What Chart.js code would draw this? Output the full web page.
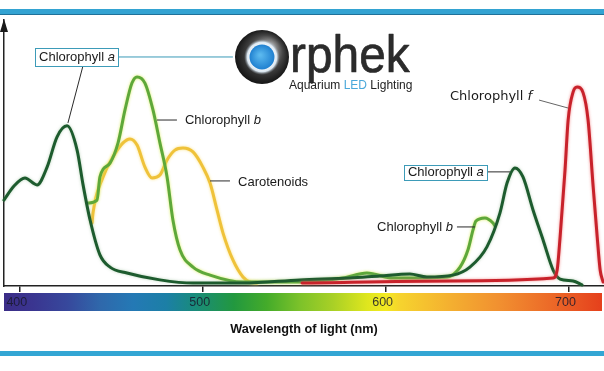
<!DOCTYPE html>
<html>
<head>
<meta charset="utf-8">
<script src="https://cdn.jsdelivr.net/npm/chart.js@4/dist/chart.umd.min.js"></script>
<style>
html,body{margin:0;padding:0;background:#fff;}
#wrap{width:604px;height:371px;position:relative;}
</style>
</head>
<body>
<div id="wrap"><canvas id="c" width="604" height="371"></canvas></div>
<script>
// ---------- data (wavelength in nm, relative absorption 0-100) ----------
const chlAWavelength = [391.3, 396.8, 402.8, 409.4, 414.9, 420.3, 425.8, 431.3, 434.5, 438.4, 443.8, 449.3, 458.6, 476.6, 494.7, 522.0, 553.2, 580.5, 596.9, 613.3, 622.6, 636.8, 646.1, 655.4, 662.5, 666.4, 670.7, 675.1, 680.6, 686.1, 691.6, 695.4, 702.5, 707.4];
const chlAValue      = [32.3, 37.6, 40.6, 38.0, 44.7, 56.0, 60.2, 51.1, 38.3, 24.8, 11.7, 7.1, 4.9, 2.3, 1.1, 1.1, 2.3, 3.0, 3.8, 4.5, 3.4, 4.1, 7.1, 14.7, 27.4, 38.7, 44.4, 41.0, 28.6, 17.3, 6.0, 2.6, 1.9, 0.4];

const chlBWavelength = [437.3, 442.2, 443.8, 449.3, 453.7, 457.5, 461.3, 464.1, 468.4, 472.8, 476.6, 480.5, 483.7, 487.6, 494.7, 504.0, 522.0, 553.2, 576.7, 589.8, 604.0, 633.6, 640.7, 645.0, 647.8, 649.4, 654.3, 658.7, 659.8];
const chlBValue      = [31.2, 32.3, 41.0, 46.2, 53.8, 66.2, 76.3, 78.6, 76.3, 66.2, 53.8, 41.0, 24.8, 13.5, 7.1, 4.1, 1.5, 1.5, 3.0, 4.9, 3.0, 3.4, 7.1, 13.5, 21.1, 24.4, 25.6, 23.7, 22.6];

const carotWavelength = [439.5, 440.0, 445.5, 450.9, 456.4, 460.2, 464.1, 468.4, 472.3, 476.6, 480.5, 484.8, 489.2, 494.7, 500.1, 504.0, 507.8, 511.1, 516.5, 522.0, 525.8, 529.7];
const carotValue      = [23.7, 27.4, 41.0, 48.5, 53.8, 55.3, 53.0, 44.7, 40.6, 41.7, 47.4, 51.1, 51.9, 50.4, 44.7, 38.7, 28.6, 19.9, 9.8, 3.4, 1.5, 1.1];

const chlFWavelength = [554.3, 635.2, 691.6, 693.8, 695.4, 698.1, 699.8, 702.5, 704.7, 708.0, 710.7, 713.5, 715.7, 717.3, 718.9];
const chlFValue      = [1.1, 1.9, 3.0, 6.0, 18.4, 43.6, 62.4, 72.9, 74.8, 72.6, 62.4, 37.2, 18.4, 6.0, 1.5];

const tickWavelengths = [400, 500, 600, 700];
const axisTitle = 'Wavelength of light (nm)';

// spectrum colour bar stops (wavelength -> colour)
const spectrumNm     = [391.3, 407, 426, 444, 462, 480, 494, 517, 535, 553, 571, 590, 600, 608, 635, 662, 690, 719];
const spectrumColour = ['#3b2d87','#3a3590','#37489c','#2f68ab','#2479b5','#1c7fa6','#198a80','#22983f','#44ab2a','#7cc22a','#a8d026','#dfe61e','#f3ea22','#f6d32e','#f4b030','#f19030','#ec6a28','#e5401c'];

// annotation labels (anchored in data coordinates)
const annotations = [
  {text:'Chlorophyll ', italic:'a', nm:410.5, v:86.1, font:'"Liberation Sans"', size:13, box:{padL:4, padR:3, halfH:9},
   lines:[{a:[434.5,82.7], b:[426.3,61.3], c:'#2a2a2a'}, {a:[454.2,86.1], b:[516.5,86.1], c:'#3a9ab8'}]},
  {text:'Chlorophyll ', italic:'b', nm:490.3, v:62.4, font:'"Liberation Sans"', size:13,
   lines:[{a:[475.0,62.4], b:[485.9,62.4], c:'#2a2a2a'}]},
  {text:'Carotenoids', italic:'', nm:519.3, v:39.1, font:'"Liberation Sans"', size:13,
   lines:[{a:[504.0,39.5], b:[514.9,39.5], c:'#2a2a2a'}]},
  {text:'Chlorophyll ', italic:'f', nm:635.2, v:71.1, font:'"DejaVu Sans"', size:13,
   lines:[{a:[683.9,69.9], b:[699.8,66.9], c:'#666'}]},
  {text:'Chlorophyll ', italic:'a', nm:612.2, v:42.7, font:'"Liberation Sans"', size:13, box:{padL:4, padR:3, halfH:7.5},
   lines:[{a:[654.9,42.9], b:[668.0,42.9], c:'#2a2a2a'}]},
  {text:'Chlorophyll ', italic:'b', nm:595.3, v:22.2, font:'"Liberation Sans"', size:13,
   lines:[{a:[639.0,22.2], b:[648.9,22.2], c:'#2a2a2a'}]}
];

function pts(xs, ys){ return xs.map((x,i)=>({x:x, y:ys[i]})); }

const glow = {
  'Chlorophyll b': 'rgba(215,235,90,0.9)',
  'Carotenoids': 'rgba(250,225,130,0.95)',
  'Chlorophyll f': 'rgba(240,120,120,0.8)',
  'Chlorophyll a': 'rgba(120,170,120,0.5)'
};

const decorPlugin = {
  id:'decor',
  beforeDraw(chart){
    const ctx = chart.ctx, ca = chart.chartArea, xs = chart.scales.x;
    ctx.save();
    ctx.fillStyle = '#fff';
    ctx.fillRect(0,0,chart.width,chart.height);
    ctx.fillStyle = '#33a3d2'; ctx.fillRect(0,9,chart.width,5);
    ctx.fillStyle = '#1f7199'; ctx.fillRect(0,14,chart.width,1);
    ctx.fillStyle = '#33a6d4'; ctx.fillRect(0,351,chart.width,5);
    const x0 = ca.left, x1 = 602;
    const g = ctx.createLinearGradient(x0,0,x1,0);
    spectrumNm.forEach((nm,i)=>{
      const p = (xs.getPixelForValue(nm)-x0)/(x1-x0);
      g.addColorStop(Math.min(1,Math.max(0,p)), spectrumColour[i]);
    });
    ctx.fillStyle = g;
    ctx.fillRect(x0, ca.bottom+7, x1-x0, 18);
    ctx.restore();
  },
  beforeDatasetDraw(chart, args){
    const ctx = chart.ctx;
    ctx.save();
    const c = glow[args.meta.label];
    if (c){ ctx.shadowColor = c; ctx.shadowBlur = 3; }
  },
  afterDatasetDraw(chart){ chart.ctx.restore(); },
  afterDraw(chart){
    const ctx = chart.ctx, ca = chart.chartArea, xs = chart.scales.x, ys = chart.scales.y;
    ctx.save();
    ctx.fillStyle = '#1a1a1a';
    ctx.beginPath();
    ctx.moveTo(ca.left, ca.top-1);
    ctx.lineTo(ca.left-4, ca.top+12);
    ctx.lineTo(ca.left+4, ca.top+12);
    ctx.closePath(); ctx.fill();

    annotations.forEach(an=>{
      an.lines.forEach(l=>{
        ctx.strokeStyle = l.c; ctx.lineWidth = 1;
        ctx.beginPath();
        ctx.moveTo(xs.getPixelForValue(l.a[0]), ys.getPixelForValue(l.a[1]));
        ctx.lineTo(xs.getPixelForValue(l.b[0]), ys.getPixelForValue(l.b[1]));
        ctx.stroke();
      });
      const x = xs.getPixelForValue(an.nm), y = ys.getPixelForValue(an.v);
      ctx.textBaseline = 'middle'; ctx.textAlign = 'left';
      ctx.font = an.size + 'px ' + an.font;
      const w1 = ctx.measureText(an.text).width;
      ctx.font = 'italic ' + an.size + 'px ' + an.font;
      const w2 = an.italic ? ctx.measureText(an.italic).width : 0;
      if (an.box){
        ctx.fillStyle = '#fff';
        ctx.strokeStyle = '#3d9bb8'; ctx.lineWidth = 1;
        const bx = Math.round(x - an.box.padL) + 0.5, by = Math.round(y - an.box.halfH) + 0.5;
        const bw = Math.round(w1 + w2 + an.box.padL + an.box.padR), bh = Math.round(an.box.halfH*2);
        ctx.fillRect(bx, by, bw, bh);
        ctx.strokeRect(bx, by, bw, bh);
      }
      ctx.fillStyle = '#1a1a1a';
      ctx.font = an.size + 'px ' + an.font;
      ctx.fillText(an.text, x, y);
      if (an.italic){
        ctx.font = 'italic ' + an.size + 'px ' + an.font;
        ctx.fillText(an.italic, x + w1, y);
      }
    });

    // logo
    const cx = 262, cy = 57;
    let g = ctx.createRadialGradient(cx+8, cy-10, 4, cx, cy, 28);
    g.addColorStop(0, '#a0a0a0'); g.addColorStop(0.55, '#444'); g.addColorStop(1, '#121212');
    ctx.beginPath(); ctx.arc(cx, cy, 27, 0, Math.PI*2); ctx.fillStyle = g; ctx.fill();
    g = ctx.createRadialGradient(cx, cy, 11, cx, cy, 18);
    g.addColorStop(0, 'rgba(255,255,255,1)'); g.addColorStop(0.55, 'rgba(225,238,248,0.95)'); g.addColorStop(1, 'rgba(120,130,140,0)');
    ctx.beginPath(); ctx.arc(cx, cy, 18, 0, Math.PI*2); ctx.fillStyle = g; ctx.fill();
    g = ctx.createRadialGradient(cx-2, cy-2, 1, cx, cy, 12.5);
    g.addColorStop(0, '#5ab8ee'); g.addColorStop(1, '#1f80d0');
    ctx.beginPath(); ctx.arc(cx, cy, 12.5, 0, Math.PI*2); ctx.fillStyle = g; ctx.fill();

    ctx.save();
    ctx.fillStyle = '#2b2b2b';
    ctx.strokeStyle = '#2b2b2b';
    ctx.lineWidth = 0.7;
    ctx.lineJoin = 'round';
    ctx.font = '52px "Liberation Sans"';
    ctx.textBaseline = 'alphabetic'; ctx.textAlign = 'left';
    ctx.translate(290, 72); ctx.scale(0.92, 1);
    ctx.fillText('rphek', 0, 0);
    ctx.strokeText('rphek', 0, 0);
    ctx.restore();

    ctx.font = '12px "Liberation Sans"';
    ctx.textBaseline = 'middle'; ctx.textAlign = 'left';
    let tx = 289;
    [['Aquarium ', '#222'], ['LED', '#4aa8da'], [' Lighting', '#222']].forEach(s=>{
      ctx.fillStyle = s[1]; ctx.fillText(s[0], tx, 86);
      tx += ctx.measureText(s[0]).width;
    });
    ctx.restore();
  }
};

new Chart(document.getElementById('c'), {
  type: 'line',
  data: {
    datasets: [
      {label:'Chlorophyll f', data: pts(chlFWavelength, chlFValue), borderColor:'#c8222b', order:1},
      {label:'Chlorophyll a', data: pts(chlAWavelength, chlAValue), borderColor:'#1d5b2e', order:2},
      {label:'Chlorophyll b', data: pts(chlBWavelength, chlBValue), borderColor:'#5ea83a', order:3},
      {label:'Carotenoids',   data: pts(carotWavelength, carotValue), borderColor:'#efc23a', order:4}
    ]
  },
  options: {
    responsive: false,
    animation: false,
    devicePixelRatio: 1,
    layout: {padding: {top: 20, left: 0, right: 0, bottom: 0}},
    plugins: {legend: {display: false}, tooltip: {enabled: false}},
    elements: {
      point: {radius: 0},
      line: {borderWidth: 3, cubicInterpolationMode: 'monotone', borderCapStyle: 'round', borderJoinStyle: 'round', fill: false}
    },
    datasets: {line: {clip: false}},
    scales: {
      x: {
        type: 'linear', min: 391.34, max: 719.41,
        afterBuildTicks: s => { s.ticks = tickWavelengths.map(v => ({value: v})); },
        afterFit: s => { s.height = 85; s.paddingLeft = 0; s.paddingRight = 0; },
        grid: {display: true, drawOnChartArea: false, drawTicks: true, tickLength: 6, color: '#222', lineWidth: 1.5},
        border: {display: true, color: '#222', width: 1.5},
        ticks: {padding: 3.5, labelOffset: -3, color: 'rgba(25,25,45,0.85)', font: {family: 'Liberation Sans', size: 12.5}, maxRotation: 0, autoSkip: false},
        title: {display: true, text: axisTitle, color: '#111', font: {family: 'Liberation Sans', size: 12.7, weight: 'bold'}, padding: {top: 0, bottom: 33.4}}
      },
      y: {
        min: 0, max: 100,
        afterFit: s => { s.width = 4; s.paddingTop = 0; s.paddingBottom = 0; },
        ticks: {display: false},
        grid: {display: false},
        border: {display: true, color: '#222', width: 1.5}
      }
    }
  },
  plugins: [decorPlugin]
});
</script>
</body>
</html>
